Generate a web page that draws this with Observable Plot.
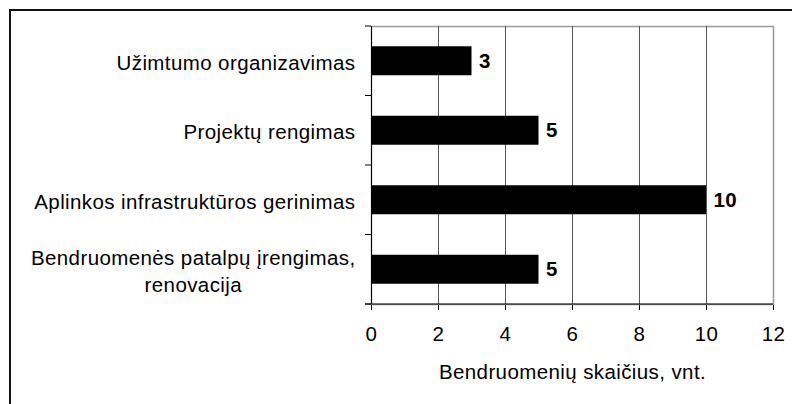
<!DOCTYPE html>
<html>
<head>
<meta charset="utf-8">
<script src="https://cdn.jsdelivr.net/npm/d3@7"></script>
<script src="https://cdn.jsdelivr.net/npm/@observablehq/plot@0.6"></script>
<style>
  html, body { margin: 0; padding: 0; background: #fff; }
  #wrap { position: relative; width: 792px; height: 404px; overflow: hidden; }
  #border { position: absolute; left: 9px; top: 9px; width: 800px; height: 420px;
            border-left: 2px solid #111; border-top: 2px solid #111; pointer-events: none; }
</style>
</head>
<body>
<div id="wrap"><div id="border"></div></div>
<script>
const categories = [
  "Užimtumo organizavimas",
  "Projektų rengimas",
  "Aplinkos infrastruktūros gerinimas",
  "Bendruomenės patalpų įrengimas,\nrenovacija"
];
const values = [3, 5, 10, 5];
const xTicks = [0, 2, 4, 6, 8, 10, 12];
const xLabel = "Bendruomenių skaičius, vnt.";

const data = categories.map((c, i) => ({category: c, value: values[i]}));
const font = "'Liberation Sans', Arial, Helvetica, sans-serif";
const fs = 20.5;

const chart = Plot.plot({
  width: 792,
  height: 404,
  marginLeft: 371,
  marginRight: 19,
  marginTop: 26,
  marginBottom: 100,
  style: {fontFamily: font, fontSize: fs + "px", color: "black", background: "white", overflow: "visible", letterSpacing: "0.4px"},
  x: {domain: [0, 12], ticks: xTicks, tickSize: 6, tickPadding: 16, label: null},
  y: {domain: categories, paddingInner: 0.583, paddingOuter: 0.2915, round: false, axis: null},
  marks: [
    Plot.frame({stroke: "#999", strokeWidth: 1.5}),
    Plot.ruleX(xTicks.filter(t => t > 0 && t < 12), {stroke: "#555"}),
    Plot.barX(data, {x: "value", y: "category", fill: "black"}),
    Plot.ruleX([0], {stroke: "black"}),
    Plot.text(data, {x: "value", y: "category", text: d => String(d.value), textAnchor: "start", dx: 7, fontWeight: "bold", fontSize: fs, fill: "black"}),
    Plot.text(categories, {y: d => d, text: d => d, frameAnchor: "left", textAnchor: "end", dx: -16, lineHeight: 1.32, fontSize: fs, fill: "black"}),
    Plot.text([xLabel], {text: d => d, frameAnchor: "bottom", dy: 74, fontSize: fs, fill: "black"})
  ]
});

document.getElementById("wrap").appendChild(chart);

// axis lines and category boundary ticks, positioned with the chart's scales
const xs = chart.scale("x");
const ys = chart.scale("y");
const svg = d3.select(chart);
const x0 = xs.apply(0), x12 = xs.apply(12);
const step = ys.step != null ? ys.step : (ys.range[1] - ys.range[0]) / categories.length;
const bw = ys.bandwidth != null ? ys.bandwidth : step * (1 - 0.583);
const bounds = categories.map(c => ys.apply(c) - (step - bw) / 2);
bounds.push(bounds[bounds.length - 1] + step);
const g = svg.append("g").attr("stroke", "black");
bounds.forEach(b => {
  g.append("line").attr("x1", x0 - 6).attr("x2", x0).attr("y1", b).attr("y2", b);
});
g.append("line").attr("x1", x0 - 6).attr("x2", x12).attr("y1", bounds[bounds.length - 1]).attr("y2", bounds[bounds.length - 1]);

// center multi-line category labels within their block
svg.selectAll("text").each(function() {
  const tspans = this.querySelectorAll("tspan");
  if (tspans.length > 1) {
    const bb = this.getBBox();
    this.setAttribute("text-anchor", "middle");
    tspans.forEach(t => t.setAttribute("x", bb.x + bb.width / 2));
  }
});
</script>
</body>
</html>
